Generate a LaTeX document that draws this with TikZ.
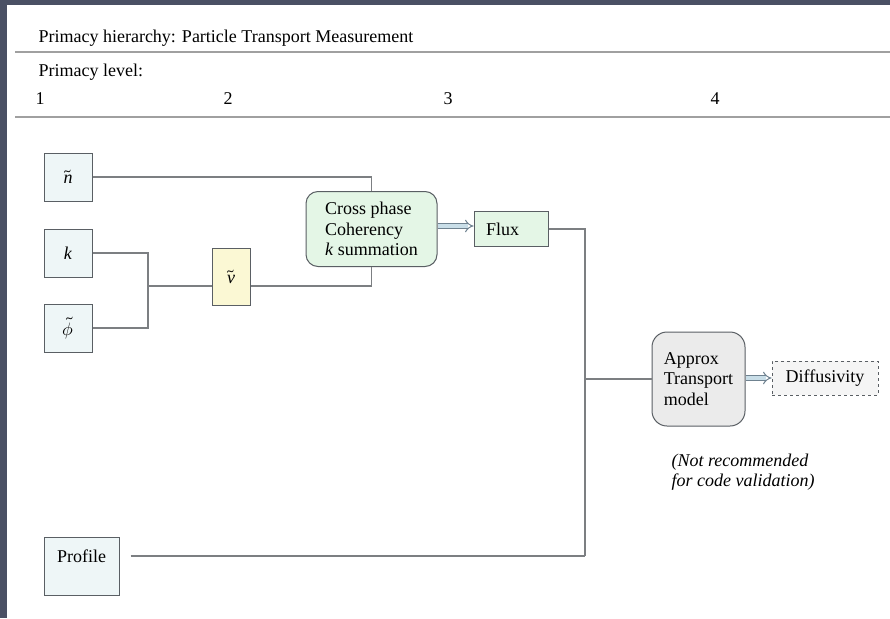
\documentclass[tikz,border=0pt]{standalone}
\usepackage{fontspec}
\usepackage{unicode-math}
\setmainfont{Liberation Serif}
\setmathfont{Latin Modern Math}
\usepackage{tikz}
\usetikzlibrary{arrows.meta,calc}

\newcommand\tvar[1]{\(\tilde{\mbox{\itshape #1}}\)}

\definecolor{slate}{HTML}{4A5064}
\definecolor{boxline}{HTML}{5A5F64}
\definecolor{wiregray}{HTML}{7C7F82}
\definecolor{rulegray}{HTML}{A0A0A0}
\definecolor{leafblue}{HTML}{EEF6F7}
\definecolor{velyellow}{HTML}{FBF8D4}
\definecolor{fluxgreen}{HTML}{E4F6E6}
\definecolor{modelgray}{HTML}{EBEBEB}
\definecolor{outgray}{HTML}{F5F5F5}
\definecolor{arrowblue}{HTML}{C9DEE8}
\definecolor{arrowgray}{HTML}{6F8290}

\begin{document}
\begin{tikzpicture}
  [
    x=1pt, y=-1pt,
    txt/.style={font=\fontsize{18}{20.5}\selectfont},
    box/.style={draw=boxline, line width=1pt, fill=#1, inner sep=0pt, txt},
    leaf/.style={box=leafblue, minimum width=48pt, minimum height=48pt},
    wire/.style={draw=wiregray, line width=1.2pt},
    fat/.style={draw=arrowgray, line width=1pt, double=arrowblue,
      double distance=3.4pt, -{Implies[length=5pt]}},
    rule/.style={draw=rulegray, line width=1.6pt}
  ]

  \useasboundingbox (0,0) rectangle (890,618);
  \fill[slate] (0,0) rectangle (890,618);
  \fill[white] (7,5) rectangle (890,618);

  % header
  \node[txt, anchor=base west] (title) at (35,43) {Primacy hierarchy: Particle Transport Measurement};
  \draw[rule] (15,52) -- (890,52);
  \node[txt, anchor=base west] (lvl) at (35,76) {Primacy level:};
  \node[txt, anchor=base] (lvl1) at (40,104) {1};
  \node[txt, anchor=base] (lvl2) at (228,104) {2};
  \node[txt, anchor=base] (lvl3) at (448,104) {3};
  \node[txt, anchor=base] (lvl4) at (715,104) {4};
  \draw[rule] (15,117) -- (890,117);

  % level 1
  \node[leaf] (ntil) at (68,177) {\tvar{n}};
  \node[leaf] (kbox) at (68,253) {\textit{k}};
  \node[leaf] (phibox) at (68,328) {\(\tilde{\phi}\)};
  \node[box=leafblue, minimum width=75pt, minimum height=58pt] (prof) at (81.5,566) {};
  \node[txt] (proftxt) at (81.5,556) {Profile};

  % level 2
  \node[box=velyellow, minimum width=38pt, minimum height=57pt] (vtil) at (231,276.5) {\tvar{v}};

  % level 3
  \node[box=fluxgreen, rounded corners=12pt, minimum width=131pt, minimum height=75pt,
    align=left] (cross) at (371.5,229) {Cross phase\\Coherency\\\textit{k} summation};
  \node[box=fluxgreen, minimum width=74pt, minimum height=35pt, text width=50pt,
    align=left] (flux) at (511,229) {Flux};

  % level 4
  \node[box=modelgray, rounded corners=15pt, minimum width=93pt, minimum height=94pt,
    align=left] (approx) at (698.5,379) {Approx\\Transport\\model};
  \node[box=outgray, dashed, minimum width=106pt, minimum height=34pt] (diff) at (825,378) {Diffusivity};
  \node[txt, font=\fontsize{18}{20}\selectfont\itshape, align=left, anchor=north west]
    (note) at (668,450) {(Not recommended\\for code validation)};

  % junctions
  \coordinate (jkp) at (148,286);
  \coordinate (jprof) at (585,556);

  % connectors
  \draw[wire] (ntil) -| (cross);
  \draw[wire] (kbox) -| (jkp);
  \draw[wire] (phibox) -| (jkp);
  \draw[wire] (jkp) -- (jkp -| vtil.west);
  \draw[wire] (jkp -| vtil.east) -| (cross);
  \draw[wire] (flux) -| (jprof);
  \draw[wire] ($(prof.east |- proftxt)+(11,0)$) -- (jprof);
  \draw[wire] (approx.west) -- (approx.west -| jprof);

  \draw[fat] (cross.east |- 0,226) -- (flux.west |- 0,226);
  \draw[fat] (approx.east |- diff) -- (diff.west);
\end{tikzpicture}
\end{document}
